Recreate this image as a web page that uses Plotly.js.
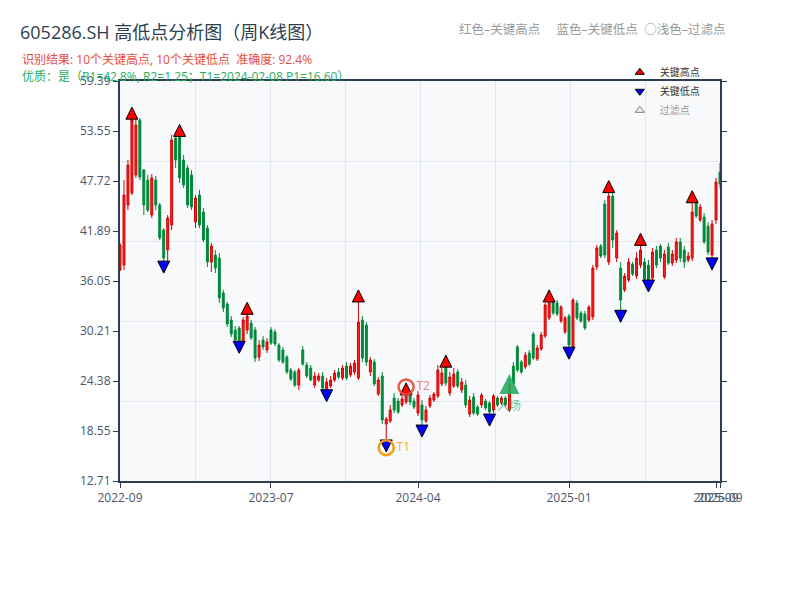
<!DOCTYPE html>
<html>
<head>
<meta charset="utf-8">
<script src="https://cdn.plot.ly/plotly-3.0.1.min.js"></script>
<style>html,body{margin:0;padding:0;background:#fff;}#chart{width:800px;height:600px;}</style>
</head>
<body>
<div id="chart"></div>
<script>
// ---- weekly OHLC (index = week number) ----
const open = [37.33,37.91,44.92,46.32,48.42,54.84,49.00,47.83,43.75,47.83,
44.92,42.00,39.67,42.58,52.74,52.85,50.17,49.23,48.42,42.93,
46.08,44.10,42.23,38.26,39.08,38.73,34.65,33.36,31.50,30.33,
30.56,28.93,30.33,31.15,30.33,27.18,29.16,28.00,30.33,30.10,
28.58,28.00,27.18,25.66,25.43,23.91,28.00,26.25,25.89,23.91,
24.49,24.96,23.33,23.79,24.49,25.43,24.73,26.13,25.08,25.43,
24.73,31.50,30.91,25.43,26.59,22.86,24.96,19.36,19.71,22.39,
22.04,21.58,21.93,22.63,22.04,20.64,21.58,19.71,21.46,22.16,
22.63,24.03,26.59,22.98,23.79,25.43,23.33,23.91,20.53,22.51,
21.34,21.58,22.04,21.81,20.99,22.39,21.81,22.39,20.99,26.13,
28.35,26.59,26.01,27.65,29.86,26.95,28.11,29.63,31.73,33.71,
33.48,31.38,30.10,31.96,28.35,33.48,32.31,32.20,31.50,31.85,
37.68,40.13,45.03,38.26,45.97,38.73,37.56,35.00,36.16,38.03,
36.63,37.91,38.26,37.91,36.40,39.67,40.13,36.51,40.02,38.15,
38.50,40.60,39.67,38.50,38.73,45.15,43.17,43.52,42.47,39.08,
43.17,48.77];
const high = [40.48,47.83,50.17,55.23,55.07,55.07,49.12,48.42,48.53,48.30,
45.15,42.23,43.75,53.09,52.85,53.26,50.75,49.58,49.00,46.08,
46.67,44.57,42.58,40.48,39.67,39.32,35.00,33.60,31.96,30.80,
30.80,31.85,32.90,31.50,30.68,29.16,29.63,29.40,30.68,30.45,
28.81,28.35,27.41,25.89,25.66,25.89,28.46,26.59,26.25,25.43,
25.31,25.43,24.73,24.96,25.66,25.89,26.25,26.59,26.48,26.83,
34.32,31.96,31.26,27.18,26.95,24.84,25.43,20.18,21.58,22.98,
22.39,22.63,23.68,23.09,22.39,23.21,22.16,21.46,22.74,23.09,
26.25,25.89,26.86,25.43,25.89,25.78,24.73,24.49,22.63,22.98,
21.58,22.98,22.28,22.04,22.86,22.63,22.63,22.63,24.73,26.59,
28.58,26.83,27.76,28.00,30.10,28.58,30.10,33.48,34.32,34.06,
33.83,33.25,31.96,32.20,34.06,33.83,32.55,32.55,33.25,37.91,
40.25,40.37,45.50,46.83,46.43,42.00,38.26,36.98,38.73,38.26,
39.43,40.79,38.73,38.50,39.90,40.13,40.37,39.67,40.48,39.67,
41.07,41.07,40.13,39.43,45.67,45.50,45.03,43.98,42.93,43.17,
48.07,49.82];
const low = [37.21,37.33,44.33,46.08,48.07,47.83,43.75,44.10,43.40,44.33,
40.83,38.11,38.26,42.00,49.23,47.48,46.90,44.57,44.33,42.23,
42.23,40.60,37.68,37.10,36.98,33.48,32.43,30.68,29.51,28.81,
28.46,28.70,29.86,29.16,26.59,26.71,28.00,27.65,28.58,28.46,
26.59,26.36,25.19,24.38,23.68,23.33,26.13,24.73,24.38,23.56,
24.26,23.33,22.64,23.56,24.26,24.61,24.49,24.49,24.84,25.08,
24.49,26.59,26.13,24.96,23.79,22.63,19.36,16.60,19.48,20.64,
20.53,21.34,21.69,21.58,21.11,20.29,18.39,19.48,21.23,21.93,
22.39,23.79,23.79,22.63,23.56,23.56,22.98,21.23,20.18,20.41,
20.29,21.23,20.99,19.71,20.64,21.34,21.58,21.34,20.76,23.79,
25.43,25.19,25.78,26.13,26.83,26.71,27.88,29.40,31.50,32.08,
31.96,31.15,29.86,27.76,28.11,31.50,31.15,30.33,31.26,31.50,
37.33,38.73,38.73,37.91,39.90,38.26,32.20,34.76,35.93,36.63,
36.28,37.56,36.05,35.84,36.16,37.56,38.26,36.28,37.91,37.80,
38.15,38.26,37.56,38.26,38.38,43.40,42.93,40.37,39.08,38.50,
42.70,46.90];
const close = [40.25,46.08,49.58,54.84,54.25,48.18,44.92,44.33,48.07,44.92,
41.07,38.73,43.40,52.50,50.17,48.07,47.25,44.92,44.69,45.73,
42.58,40.83,38.26,40.13,37.56,34.06,32.90,31.03,29.86,29.16,
28.93,31.50,31.96,29.40,27.06,28.58,28.35,28.93,28.81,28.70,
26.83,26.59,25.43,24.61,23.91,25.66,26.36,24.96,24.49,24.96,
24.96,23.56,24.26,24.49,25.31,24.84,25.89,24.73,26.13,26.48,
31.26,27.06,26.59,26.83,24.03,24.49,19.83,19.94,20.99,20.99,
20.76,22.28,22.86,21.93,21.34,22.74,19.83,20.99,22.39,22.86,
25.66,25.31,24.14,24.84,25.19,23.79,24.26,21.58,22.16,20.64,
20.53,22.74,21.23,20.76,22.63,21.58,22.39,21.58,23.91,24.03,
25.66,25.43,27.41,26.36,27.06,28.23,29.75,33.25,34.18,32.31,
32.20,33.01,31.73,28.58,33.83,31.73,31.38,30.56,33.01,37.56,
39.90,38.96,39.08,45.97,40.83,41.65,33.83,36.63,38.26,36.86,
38.73,39.67,36.28,36.05,39.43,37.91,38.73,39.20,38.15,39.20,
40.60,38.73,38.26,38.96,44.10,43.63,44.69,40.60,39.43,42.70,
47.60,47.37];

// ---- key points (week indices) ----
const keyHighIdx = [3, 15, 32, 60, 72, 82, 108, 123, 131, 144];
const keyLowIdx  = [11, 30, 52, 67, 76, 93, 113, 126, 133, 149];
const t1Idx = 67, t1Price = 16.60;
const t2Idx = 72;
const entryIdx = 98, entryPrice = 25.19;

// ---- axis labels ----
const xTickIdx  = [0, 38, 75, 113, 150, 151];
const xTickText = ['2022-09', '2023-07', '2024-04', '2025-01', '2025-09', '2025-09'];
const yTickText = ['12.71','18.55','24.38','30.21','36.05','41.89','47.72','53.55','59.39'];
const yRange = [12.71, 59.39];

const idx = open.map((_, i) => i);
const yTickVals = yTickText.map((_, k) => yRange[0] + k * (yRange[1] - yRange[0]) / (yTickText.length - 1));

const traces = [
  {
    type: 'candlestick', x: idx, open: open, high: high, low: low, close: close,
    increasing: {line: {color: '#d40000', width: 1}, fillcolor: '#ff1f1f'},
    decreasing: {line: {color: '#00893a', width: 1}, fillcolor: '#00893a'},
    whiskerwidth: 0, showlegend: false, hoverinfo: 'skip'
  },
  {
    type: 'scatter', mode: 'markers', showlegend: false,
    x: keyHighIdx, y: keyHighIdx.map(i => high[i] * 1.02),
    marker: {symbol: 'arrow-up', size: 12, color: '#ff0000', line: {color: '#000', width: 1}},
    hoverinfo: 'skip'
  },
  {
    type: 'scatter', mode: 'markers', showlegend: false,
    x: keyLowIdx, y: keyLowIdx.map(i => low[i] * 0.97),
    marker: {symbol: 'arrow-down', size: 12, color: '#0000ff', line: {color: '#000', width: 1}},
    hoverinfo: 'skip'
  },
  // legend entries
  {
    type: 'scatter', mode: 'markers', name: '关键高点', x: [null], y: [null],
    marker: {symbol: 'triangle-up', size: 8, color: '#ff0000', line: {color: '#000', width: 1}}
  },
  {
    type: 'scatter', mode: 'markers', name: '关键低点', x: [null], y: [null],
    marker: {symbol: 'triangle-down', size: 8, color: '#0000ff', line: {color: '#000', width: 1}}
  },
  {
    type: 'scatter', mode: 'markers', name: '过滤点', visible: 'legendonly', x: [null], y: [null],
    marker: {symbol: 'triangle-up', size: 8, color: '#ffe0e0', line: {color: '#000', width: 1}}
  },
  {
    type: 'scatter', mode: 'markers+text', showlegend: false, hoverinfo: 'skip',
    x: [t1Idx], y: [t1Price], text: ['T1'], textposition: 'middle right',
    textfont: {color: '#f5b041', size: 12},
    marker: {symbol: 'circle-open', size: 15, color: '#f39c12', line: {width: 2.5}}
  },
  {
    type: 'scatter', mode: 'markers+text', showlegend: false, hoverinfo: 'skip', opacity: 0.9,
    x: [t2Idx], y: [high[t2Idx]], text: ['T2'], textposition: 'middle right',
    textfont: {color: '#ec7063', size: 12},
    marker: {symbol: 'circle-open', size: 15, color: '#e74c3c', line: {width: 2.5}}
  },
  {
    type: 'scatter', mode: 'markers', showlegend: false, hoverinfo: 'skip', opacity: 0.9,
    x: [entryIdx], y: [entryPrice],
    marker: {symbol: 'arrow-up', size: 20, color: '#27ae60'}
  },
  {
    type: 'scatter', mode: 'markers', x: [null], y: [null], xaxis: 'x2', yaxis: 'y2',
    showlegend: false, hoverinfo: 'skip'
  }
];

const axisColor = '#2c3e50';
const tickFont = {size: 12, color: '#4a5568'};
const layout = {
  width: 800, height: 600,
  paper_bgcolor: '#ffffff', plot_bgcolor: '#f8f9fb',
  margin: {l: 120, r: 80, t: 81, b: 119},
  font: {family: '"Open Sans", "Noto Sans CJK SC", sans-serif'},
  title: {
    text: '605286.SH 高低点分析图（周K线图）', xref: 'container', x: 0.025, xanchor: 'left',
    yref: 'container', y: 0.945, yanchor: 'middle', font: {size: 18, color: '#2c3e50'}
  },
  xaxis: {
    range: [0, 151], tickmode: 'array', tickvals: xTickIdx, ticktext: xTickText, tickangle: 0,
    showgrid: false, zeroline: false, showline: true, linecolor: axisColor, linewidth: 2,
    mirror: true, ticks: 'outside', ticklen: 5, tickcolor: axisColor,
    tickfont: tickFont, rangeslider: {visible: false}
  },
  yaxis: {
    range: yRange, tickmode: 'array', tickvals: yTickVals, ticktext: yTickText,
    showgrid: false, zeroline: false, showline: true, linecolor: axisColor, linewidth: 2,
    mirror: 'ticks', ticks: 'outside', ticklen: 5, tickcolor: axisColor,
    tickfont: tickFont
  },
  xaxis2: {overlaying: 'x', range: [0, 8], dtick: 1, showgrid: true, gridcolor: '#e2e6ed', gridwidth: 1,
    showticklabels: false, zeroline: false, ticks: '', showline: false},
  yaxis2: {overlaying: 'y', range: [0, 5], dtick: 1, showgrid: true, gridcolor: '#e2e6ed', gridwidth: 1,
    showticklabels: false, zeroline: false, ticks: '', showline: false},
  legend: {x: 0.833, y: 1.058, xanchor: 'left', yanchor: 'top', bgcolor: 'rgba(0,0,0,0)',
    font: {size: 10, color: '#333'}},
  annotations: [
    {xref: 'paper', yref: 'paper', x: -0.167, y: 1.055, xanchor: 'left', yanchor: 'middle', showarrow: false,
     text: '识别结果: 10个关键高点, 10个关键低点  准确度: 92.4%', font: {size: 12, color: '#e74c3c'}},
    {xref: 'paper', yref: 'paper', x: -0.167, y: 1.0125, xanchor: 'left', yanchor: 'middle', showarrow: false,
     text: '优质：是（R1=42.8%, R2=1.25；T1=2024-02-08 P1=16.60）', font: {size: 12, color: '#27ae60'}},
    {xref: 'paper', yref: 'paper', x: 1.012, y: 1.13, xanchor: 'right', yanchor: 'middle', showarrow: false,
     text: '红色–关键高点     蓝色–关键低点  ○浅色–过滤点', font: {size: 12.5, color: '#999999'}},
    {xref: 'x', yref: 'y', x: entryIdx, y: entryPrice, yshift: -31, xanchor: 'center', yanchor: 'middle',
     showarrow: false, text: '入场', font: {size: 12, color: 'rgba(39,174,96,0.7)'}}
  ],
  showlegend: true,
  hovermode: false
};

Plotly.newPlot('chart', traces, layout, {displayModeBar: false, staticPlot: true});
</script>
</body>
</html>
